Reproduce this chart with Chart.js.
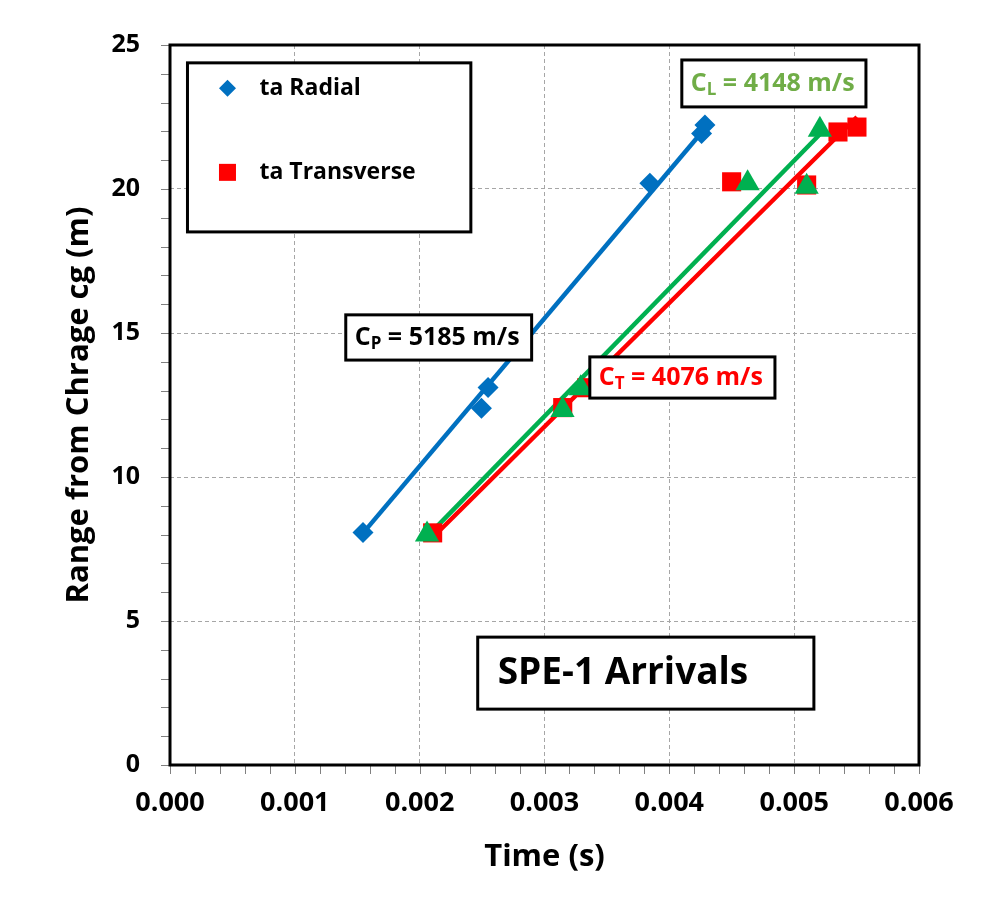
<!DOCTYPE html>
<html>
<head>
<meta charset="utf-8">
<title>SPE-1 Arrivals</title>
<script src="https://cdn.jsdelivr.net/npm/chart.js@4.4.1/dist/chart.umd.min.js"></script>
<style>
  html, body { margin: 0; padding: 0; background: #fff; }
  #wrap { width: 983px; height: 922px; }
</style>
</head>
<body>
<div id="wrap"><canvas id="arrivals" width="983" height="922"></canvas></div>
<script>
// ---------------- Data ----------------
// first arrival time (s) against range from the charge cg (m)
const radialTime = [0.001546, 0.002495, 0.002548, 0.003844, 0.004258, 0.004285];
const radialRange = [8.07, 12.39, 13.11, 20.20, 21.93, 22.22];

const transverseTime = [0.002104, 0.003146, 0.003339, 0.004499, 0.005100, 0.005351, 0.005503];
const transverseRange = [8.06, 12.41, 13.10, 20.25, 20.14, 21.98, 22.15];

const longTime = [0.002059, 0.003144, 0.003290, 0.004627, 0.005100, 0.005206];
const longRange = [8.00, 12.33, 13.08, 20.20, 20.08, 22.06];

// fitted trend lines (end points)
const radialFitTime = [0.001546, 0.004285];
const radialFitRange = [8.05, 22.10];
const transverseFitTime = [0.002104, 0.005503];
const transverseFitRange = [7.90, 22.50];
const longFitTime = [0.002059, 0.005206];
const longFitRange = [7.93, 21.90];

// wave speeds written on the chart (m/s)
const speedP = 5185;
const speedL = 4148;
const speedT = 4076;

const xTicks = [0, 0.001, 0.002, 0.003, 0.004, 0.005, 0.006];
const yTicks = [0, 5, 10, 15, 20, 25];

const BLUE = '#0070C0';
const RED = '#FF0000';
const GREEN = '#00B050';
const LABEL_GREEN = '#70AD47';
const FONT = '"Open Sans", sans-serif';

function pairs(xs, ys) {
  return xs.map((v, i) => ({ x: v, y: ys[i] }));
}

// ---------------- Text boxes ----------------
// corners in axis units (time, range)
const speedBoxes = [
  { t0: 0.001408, t1: 0.002897, r0: 15.63, r1: 14.06, main: 'C', sub: 'P', rest: ' = ' + speedP + ' m/s', color: '#000' },
  { t0: 0.004100, t1: 0.005575, r0: 24.48, r1: 22.85, main: 'C', sub: 'L', rest: ' = ' + speedL + ' m/s', color: LABEL_GREEN },
  { t0: 0.003363, t1: 0.004846, r0: 14.17, r1: 12.74, main: 'C', sub: 'T', rest: ' = ' + speedT + ' m/s', color: RED }
];
const titleBox = { t0: 0.002465, t1: 0.005158, r0: 4.44, r1: 1.94, text: 'SPE-1 Arrivals' };
const legendBox = { t0: 0.00014, t1: 0.00241, r0: 24.38, r1: 18.51 };

function boxRect(chart, b) {
  const { x, y } = chart.scales;
  const left = x.getPixelForValue(b.t0);
  const top = y.getPixelForValue(b.r0);
  return { left, top, w: x.getPixelForValue(b.t1) - left, h: y.getPixelForValue(b.r1) - top };
}

function framedBox(ctx, r) {
  ctx.fillStyle = '#fff';
  ctx.fillRect(r.left, r.top, r.w, r.h);
  ctx.strokeStyle = '#000';
  ctx.lineWidth = 3;
  ctx.strokeRect(r.left, r.top, r.w, r.h);
}

const chartDecor = {
  id: 'chartDecor',
  afterDatasetsDraw(chart) {
    const { ctx, chartArea: a, scales: { x, y } } = chart;
    ctx.save();

    // minor + major tick marks outside the frame
    ctx.strokeStyle = '#808080';
    ctx.lineWidth = 1;
    ctx.beginPath();
    for (let i = 0; i <= 30; i++) {
      const px = Math.round(x.getPixelForValue(i * 0.0002)) + 0.5;
      ctx.moveTo(px, a.bottom);
      ctx.lineTo(px, a.bottom + 9);
    }
    for (let i = 0; i <= 25; i++) {
      const py = Math.round(y.getPixelForValue(i)) + 0.5;
      ctx.moveTo(a.left, py);
      ctx.lineTo(a.left - 9, py);
    }
    ctx.stroke();

    // plot frame
    ctx.strokeStyle = '#000';
    ctx.lineWidth = 3;
    ctx.strokeRect(a.left, a.top, a.right - a.left, a.bottom - a.top);

    // legend
    const lg = boxRect(chart, legendBox);
    framedBox(ctx, lg);
    const mx = lg.left + 40;
    ctx.fillStyle = BLUE;
    ctx.beginPath();
    ctx.moveTo(mx, lg.top + 17);
    ctx.lineTo(mx + 8.5, lg.top + 25.5);
    ctx.lineTo(mx, lg.top + 34);
    ctx.lineTo(mx - 8.5, lg.top + 25.5);
    ctx.closePath();
    ctx.fill();
    ctx.fillStyle = RED;
    ctx.fillRect(mx - 8.5, lg.top + 101, 17, 17);
    ctx.fillStyle = '#000';
    ctx.font = 'bold 23px ' + FONT;
    ctx.textBaseline = 'middle';
    ctx.textAlign = 'left';
    ctx.fillText('ta Radial', lg.left + 72, lg.top + 26);
    ctx.fillText('ta Transverse', lg.left + 72, lg.top + 110);

    // wave speed labels
    speedBoxes.forEach(b => {
      const r = boxRect(chart, b);
      framedBox(ctx, r);
      const cy = r.top + r.h / 2;
      let tx = r.left + 9;
      ctx.fillStyle = b.color;
      ctx.textBaseline = 'middle';
      ctx.font = 'bold 25px ' + FONT;
      ctx.fillText(b.main, tx, cy);
      tx += ctx.measureText(b.main).width;
      ctx.font = 'bold 17px ' + FONT;
      ctx.fillText(b.sub, tx, cy + 7);
      tx += ctx.measureText(b.sub).width;
      ctx.font = 'bold 25px ' + FONT;
      ctx.fillText(b.rest, tx, cy);
    });

    // title box
    const tb = boxRect(chart, titleBox);
    framedBox(ctx, tb);
    ctx.fillStyle = '#000';
    ctx.font = 'bold 37px ' + FONT;
    ctx.fillText(titleBox.text, tb.left + 20, tb.top + tb.h / 2);

    ctx.restore();
  }
};

// ---------------- Chart ----------------
const datasets = [
  { label: 'L', data: pairs(longTime, longRange), pointStyle: 'triangle', pointRadius: 14,
    backgroundColor: GREEN, borderWidth: 0, showLine: false },
  { label: 'ta Transverse', data: pairs(transverseTime, transverseRange), pointStyle: 'rect', pointRadius: 13.5,
    backgroundColor: RED, borderWidth: 0, showLine: false },
  { label: 'ta Radial', data: pairs(radialTime, radialRange), pointStyle: 'rectRot', pointRadius: 10.5,
    backgroundColor: BLUE, borderWidth: 0, showLine: false },
  { label: 'L fit', data: pairs(longFitTime, longFitRange), showLine: true, pointRadius: 0,
    borderColor: GREEN, borderWidth: 4.5 },
  { label: 'T fit', data: pairs(transverseFitTime, transverseFitRange), showLine: true, pointRadius: 0,
    borderColor: RED, borderWidth: 4.5 },
  { label: 'P fit', data: pairs(radialFitTime, radialFitRange), showLine: true, pointRadius: 0,
    borderColor: BLUE, borderWidth: 4.5 }
];

new Chart(document.getElementById('arrivals'), {
  type: 'scatter',
  data: { datasets },
  options: {
    responsive: false,
    animation: false,
    events: [],
    layout: { padding: { left: 0, top: 45, right: 64, bottom: 37 } },
    plugins: { legend: { display: false }, tooltip: { enabled: false } },
    scales: {
      x: {
        type: 'linear',
        min: xTicks[0],
        max: xTicks[xTicks.length - 1],
        afterBuildTicks: s => { s.ticks = xTicks.map(v => ({ value: v })); },
        afterFit: s => { s.height = 120; },
        grid: { color: '#A6A6A6', lineWidth: 1, drawTicks: false },
        border: { display: false, dash: [4, 3] },
        ticks: {
          padding: 22,
          color: '#000',
          font: { family: FONT, size: 27, weight: 'bold' },
          callback: v => v.toFixed(3)
        },
        title: {
          display: true,
          text: 'Time (s)',
          color: '#000',
          font: { family: FONT, size: 31, weight: 'bold' },
          padding: { top: 0, bottom: 9 }
        }
      },
      y: {
        type: 'linear',
        min: yTicks[0],
        max: yTicks[yTicks.length - 1],
        afterBuildTicks: s => { s.ticks = yTicks.map(v => ({ value: v })); },
        afterFit: s => { s.width = 170; },
        grid: { color: '#A6A6A6', lineWidth: 1, drawTicks: false },
        border: { display: false, dash: [4, 3] },
        ticks: {
          padding: 30,
          color: '#000',
          font: { family: FONT, size: 25, weight: 'bold' },
          callback: v => String(v)
        },
        title: {
          display: true,
          text: 'Range from Chrage cg (m)',
          color: '#000',
          font: { family: FONT, size: 31, weight: 'bold' },
          padding: { top: 61, bottom: 0 }
        }
      }
    }
  },
  plugins: [chartDecor]
});
</script>
</body>
</html>
